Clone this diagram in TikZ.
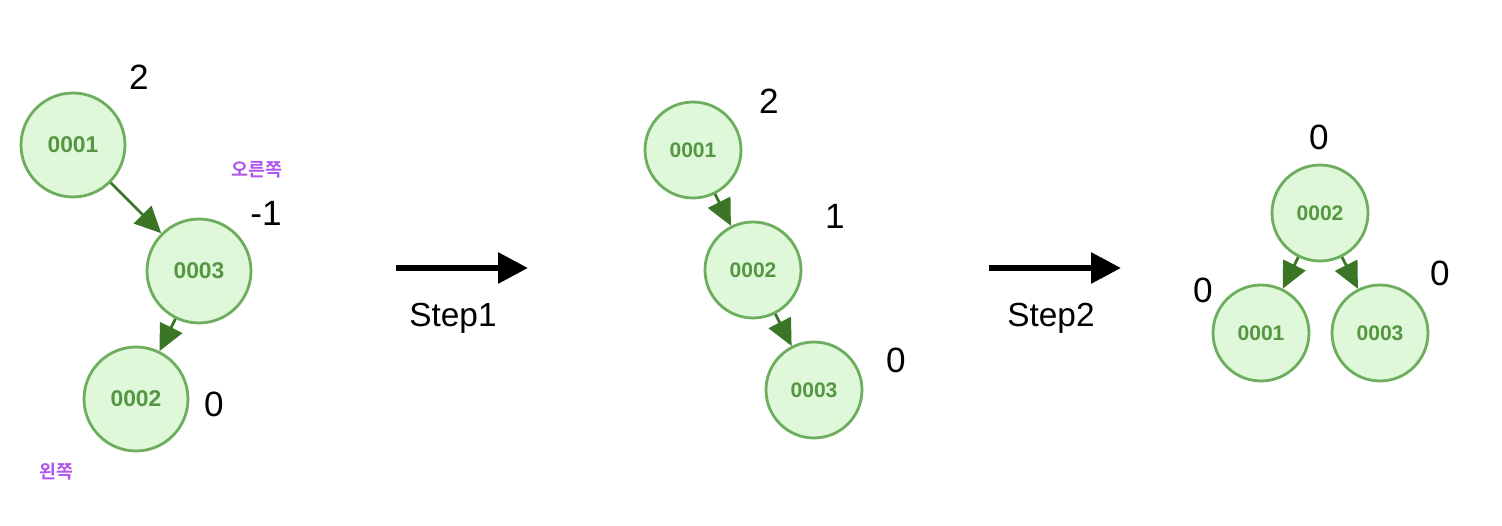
\documentclass[tikz,border=0pt]{standalone}
\usepackage{fontspec}
\setmainfont{Liberation Sans}
\newfontfamily\krfont{Noto Sans CJK KR}[BoldFont={* Bold}]
\usetikzlibrary{
  positioning,
  arrows.meta
}
\definecolor{nodebg}{RGB}{224,248,218}
\definecolor{nodeborder}{RGB}{108,174,94}
\definecolor{nodetext}{RGB}{84,150,66}
\definecolor{edgecolor}{RGB}{58,118,38}
\definecolor{sidecolor}{RGB}{176,82,238}
\tikzset{
  treenode/.style={
    circle, draw=nodeborder, fill=nodebg, line width=1.6pt,
    minimum size=1.92cm, inner sep=0pt,
    font=\fontsize{12}{14}\selectfont\bfseries, text=nodetext
  },
  bignode/.style={
    treenode, minimum size=2.08cm, font=\fontsize{13}{15}\selectfont\bfseries
  },
  treeedge/.style={
    -{Triangle[length=15pt,width=14pt]}, line width=1.6pt, draw=edgecolor
  },
  steparrow/.style={
    -{Triangle[length=17pt,width=17pt]}, line width=3.4pt, draw=black
  },
  balancelabel/.style={
    font=\fontsize{20}{24}\selectfont, inner sep=0pt
  },
  steplabel/.style={
    font=\fontsize{19}{23}\selectfont, inner sep=0pt
  },
  sidelabel/.style={
    font=\krfont\fontsize{10.5}{12}\selectfont\bfseries, text=sidecolor, inner sep=0pt
  }
}

\begin{document}
\begin{tikzpicture}[x=0.02cm, y=-0.02cm]

    \useasboundingbox (0,0) rectangle (1502,526);

    % before
    \node[bignode] (a1) at (73,145) {0001};
    \node[bignode] (a3) at (199,271) {0003};
    \node[bignode] (a2) at (136,399) {0002};

    \draw[treeedge] (a1) -- (a3);
    \draw[treeedge] (a3) -- (a2);

    \node[balancelabel] (ba1) at (139,77) {2};
    \node[balancelabel] (ba3) at (266,213) {-1};
    \node[balancelabel] (ba2) at (214,404) {0};
    \node[sidelabel] (right1) at (257,170) {오른쪽};
    \node[sidelabel] (left1) at (56,472) {왼쪽};

    % step 1
    \coordinate (s1a) at (396,268);
    \coordinate (s1b) at (528,268);
    \draw[steparrow] (s1a) -- (s1b);
    \node[steplabel] (step1) at (453,318) {Step1};

    % after step 1
    \node[treenode] (b1) at (693,150) {0001};
    \node[treenode] (b2) at (753,270) {0002};
    \node[treenode] (b3) at (814,390) {0003};

    \draw[treeedge] (b1) -- (b2);
    \draw[treeedge] (b2) -- (b3);

    \node[balancelabel] (bb1) at (769,101) {2};
    \node[balancelabel] (bb2) at (835,216) {1};
    \node[balancelabel] (bb3) at (896,360) {0};

    % step 2
    \coordinate (s2a) at (989,268);
    \coordinate (s2b) at (1121,268);
    \draw[steparrow] (s2a) -- (s2b);
    \node[steplabel] (step2) at (1051,318) {Step2};

    % after step 2
    \node[treenode] (c2) at (1320,213) {0002};
    \node[treenode] (c1) at (1261,333) {0001};
    \node[treenode] (c3) at (1380,333) {0003};

    \draw[treeedge] (c2) -- (c1);
    \draw[treeedge] (c2) -- (c3);

    \node[balancelabel] (bc2) at (1319,137) {0};
    \node[balancelabel] (bc1) at (1203,290) {0};
    \node[balancelabel] (bc3) at (1440,273) {0};

  \end{tikzpicture}
\end{document}
